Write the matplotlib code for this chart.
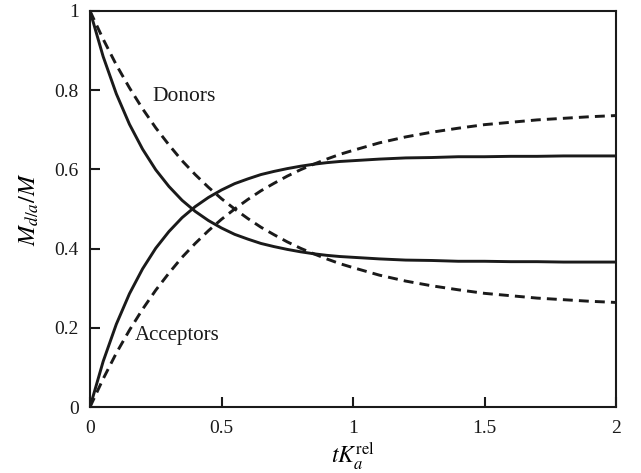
import matplotlib
matplotlib.use("Agg")
import matplotlib.pyplot as plt

plt.rcParams['font.family'] = ['Liberation Serif', 'DejaVu Serif']
plt.rcParams['mathtext.fontset'] = 'stix'

# time axis (t K_a^rel)
x_vals = [0.0, 0.05, 0.10, 0.15, 0.20, 0.25, 0.30, 0.35, 0.40, 0.45, 0.50,
          0.55, 0.60, 0.65, 0.70, 0.75, 0.80, 0.85, 0.90, 0.95, 1.00,
          1.1, 1.2, 1.3, 1.4, 1.5, 1.6, 1.7, 1.8, 1.9, 2.0]

# solid curves
donors_solid = [1.000, 0.885, 0.791, 0.714, 0.651, 0.599, 0.557, 0.522, 0.494, 0.471, 0.452,
                0.436, 0.424, 0.413, 0.405, 0.398, 0.392, 0.387, 0.383, 0.380, 0.378,
                0.374, 0.371, 0.370, 0.368, 0.368, 0.367, 0.367, 0.366, 0.366, 0.366]
acceptors_solid = [0.000, 0.115, 0.209, 0.286, 0.349, 0.401, 0.443, 0.478, 0.506, 0.529, 0.548,
                   0.564, 0.576, 0.587, 0.595, 0.602, 0.608, 0.613, 0.617, 0.620, 0.622,
                   0.626, 0.629, 0.630, 0.632, 0.632, 0.633, 0.633, 0.634, 0.634, 0.634]

# dashed curves
donors_dashed = [1.000, 0.929, 0.864, 0.806, 0.753, 0.705, 0.662, 0.622, 0.587, 0.555, 0.526,
                 0.500, 0.476, 0.454, 0.435, 0.417, 0.401, 0.387, 0.374, 0.362, 0.352,
                 0.333, 0.318, 0.306, 0.296, 0.287, 0.281, 0.275, 0.271, 0.267, 0.264]
acceptors_dashed = [0.000, 0.071, 0.136, 0.194, 0.247, 0.295, 0.338, 0.378, 0.413, 0.445, 0.474,
                    0.500, 0.524, 0.546, 0.565, 0.583, 0.599, 0.613, 0.626, 0.638, 0.648,
                    0.667, 0.682, 0.694, 0.704, 0.713, 0.719, 0.725, 0.729, 0.733, 0.736]

x_ticks = [0, 0.5, 1, 1.5, 2]
x_tick_labels = ['0', '0.5', '1', '1.5', '2']
y_ticks = [0, 0.2, 0.4, 0.6, 0.8, 1]
y_tick_labels = ['0', '0.2', '0.4', '0.6', '0.8', '1']

fig = plt.figure(figsize=(6.41, 4.73), dpi=100)
ax = fig.add_axes([90/641, 1-407/473, (616-90)/641, (407-11)/473])

lw = 2.1
ax.plot(x_vals, donors_solid, color='#1a1a1a', lw=lw, solid_capstyle='round')
ax.plot(x_vals, acceptors_solid, color='#1a1a1a', lw=lw, solid_capstyle='round')
ax.plot(x_vals, donors_dashed, color='#1a1a1a', lw=lw, linestyle=(0, (3.4, 2.1)))
ax.plot(x_vals, acceptors_dashed, color='#1a1a1a', lw=lw, linestyle=(0, (3.4, 2.1)))

ax.set_xlim(0, 2)
ax.set_ylim(0, 1)
ax.set_xticks(x_ticks)
ax.set_xticklabels(x_tick_labels)
ax.set_yticks(y_ticks)
ax.set_yticklabels(y_tick_labels)
ax.tick_params(direction='in', length=7, width=1.5, labelsize=14, colors='#1a1a1a',
               top=False, right=False)
ax.tick_params(axis='y', pad=8)
ax.tick_params(axis='x', pad=9)
for s in ax.spines.values():
    s.set_linewidth(1.5)
    s.set_color('#1a1a1a')

ax.text(0.236, 0.785, 'Donors', fontsize=15.5, va='center', ha='left', color='#1a1a1a')
ax.text(0.171, 0.18, 'Acceptors', fontsize=15, va='center', ha='left', color='#1a1a1a')

ax.set_xlabel(r'$tK_a^{\mathrm{rel}}$', fontsize=17, labelpad=3)
ax.set_ylabel(r'$M_{d/a}/M$', fontsize=17.5, labelpad=10)

fig.savefig('out.png', dpi=100)
